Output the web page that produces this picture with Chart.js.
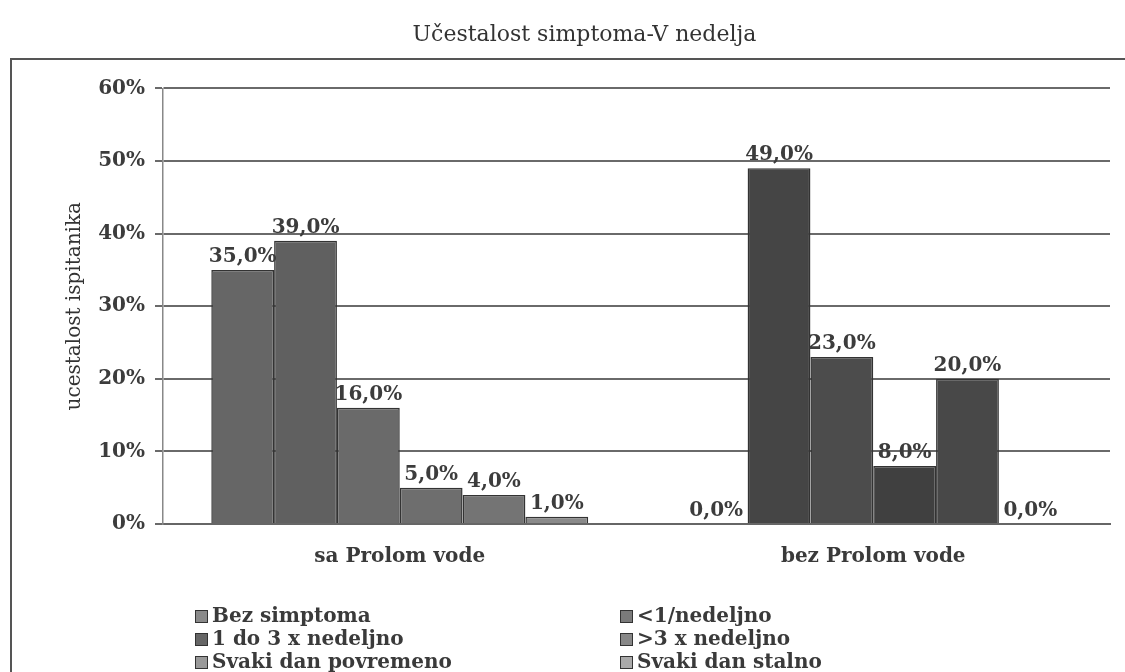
<!DOCTYPE html>
<html>
<head>
<meta charset="utf-8">
<script src="https://cdn.jsdelivr.net/npm/chart.js@4"></script>
<style>
    body { margin: 0; background: #fff; }
    #wrap { position: relative; width: 1125px; height: 672px; overflow: hidden; }
    #frame { position: absolute; left: 10px; top: 58px; width: 1140px; height: 700px; border: 2px solid #555; box-sizing: border-box; }
    #legend { position: absolute; left: 0; top: 0; font: bold 20px "DejaVu Serif"; color: #3a3a3a; }
    .item { position: absolute; white-space: nowrap; line-height: 23px; }
    .box { display: inline-block; width: 11px; height: 11px; margin-right: 4px; border: 1px solid #333; vertical-align: -1px; }
</style>
</head>
<body>
<div id="wrap">
    <div id="frame"></div>
    <canvas id="chart" width="1125" height="672"></canvas>
    <div id="legend"></div>
</div>
<script>
var categories = ['sa Prolom vode', 'bez Prolom vode'];
var seriesNames = ['Bez simptoma', '<1/nedeljno', '1 do 3 x nedeljno', '>3 x nedeljno', 'Svaki dan povremeno', 'Svaki dan stalno'];
var bezSimptoma = [35, 0];
var manjeOdJednom = [39, 49];
var jedanDoTri = [16, 23];
var viseOdTri = [5, 8];
var svakiDanPovremeno = [4, 20];
var svakiDanStalno = [1, 0];
var yTicks = [0, 10, 20, 30, 40, 50, 60];

var seriesValues = [bezSimptoma, manjeOdJednom, jedanDoTri, viseOdTri, svakiDanPovremeno, svakiDanStalno];
// boja po grupi: prva grupa svetlija, druga tamnija (sken)
var fills = [
    ['#666666', '#4a4a4a'],
    ['#606060', '#454545'],
    ['#6a6a6a', '#4c4c4c'],
    ['#6e6e6e', '#404040'],
    ['#747474', '#484848'],
    ['#8a8a8a', '#4a4a4a']
];
var swatches = ['#8a8a8a', '#7a7a7a', '#666', '#888', '#999', '#aaa'];

var datasets = seriesValues.map(function (vals, i) {
    return {
        label: seriesNames[i],
        data: vals,
        backgroundColor: fills[i],
        borderColor: '#333',
        borderWidth: 1.5,
        categoryPercentage: 0.796,
        barPercentage: 1.0
    };
});

// vrednosti iznad stubova
var valueLabels = {
    id: 'valueLabels',
    afterDatasetsDraw: function (chart) {
        var ctx = chart.ctx;
        ctx.save();
        ctx.font = 'bold 20px "DejaVu Serif"';
        ctx.fillStyle = '#3c3c3c';
        ctx.textAlign = 'center';
        ctx.textBaseline = 'bottom';
        chart.data.datasets.forEach(function (ds, i) {
            chart.getDatasetMeta(i).data.forEach(function (bar, j) {
                var txt = ds.data[j].toFixed(1).replace('.', ',') + '%';
                ctx.fillText(txt, bar.x, bar.y - 3);
            });
        });
        ctx.restore();
    }
};

var ctx = document.getElementById('chart').getContext('2d');
var chart = new Chart(ctx, {
    type: 'bar',
    data: { labels: categories, datasets: datasets },
    options: {
        responsive: false,
        animation: false,
        layout: { padding: { left: 59, right: 15, top: 0, bottom: 98 } },
        plugins: {
            legend: { display: false },
            tooltip: { enabled: false },
            title: {
                display: true,
                text: 'Učestalost simptoma-V nedelja',
                color: '#333',
                font: { family: 'DejaVu Serif', size: 22, weight: 'normal' },
                padding: { top: 22, bottom: 40 }
            }
        },
        scales: {
            x: {
                grid: { display: false, drawTicks: false },
                border: { display: true, color: '#666', width: 2 },
                ticks: {
                    color: '#3a3a3a',
                    padding: 21,
                    font: { family: 'DejaVu Serif', size: 20, weight: 'bold' }
                },
                afterFit: function (s) { s.height = 50; }
            },
            y: {
                min: 0,
                max: 60,
                afterBuildTicks: function (s) { s.ticks = yTicks.map(function (v) { return { value: v }; }); },
                grid: { color: '#6a6a6a', lineWidth: 2, tickLength: 8 },
                border: { color: '#888', width: 1.5 },
                ticks: {
                    color: '#3c3c3c',
                    padding: 10,
                    font: { family: 'DejaVu Serif', size: 20, weight: 'bold' },
                    callback: function (v) { return v + '%'; }
                },
                title: {
                    display: true,
                    text: 'ucestalost ispitanika',
                    color: '#333',
                    font: { family: 'DejaVu Serif', size: 20, weight: 'normal' }
                },
                afterFit: function (s) { s.width = 104; }
            }
        }
    },
    plugins: [valueLabels]
});

// legenda u dve kolone
var legend = document.getElementById('legend');
var colX = [195, 620];
var rowY = [604, 627, 650];
seriesNames.forEach(function (name, i) {
    var div = document.createElement('div');
    div.className = 'item';
    div.style.left = colX[i % 2] + 'px';
    div.style.top = rowY[Math.floor(i / 2)] + 'px';
    var box = document.createElement('span');
    box.className = 'box';
    box.style.background = swatches[i];
    div.appendChild(box);
    div.appendChild(document.createTextNode(name));
    legend.appendChild(div);
});
</script>
</body>
</html>
